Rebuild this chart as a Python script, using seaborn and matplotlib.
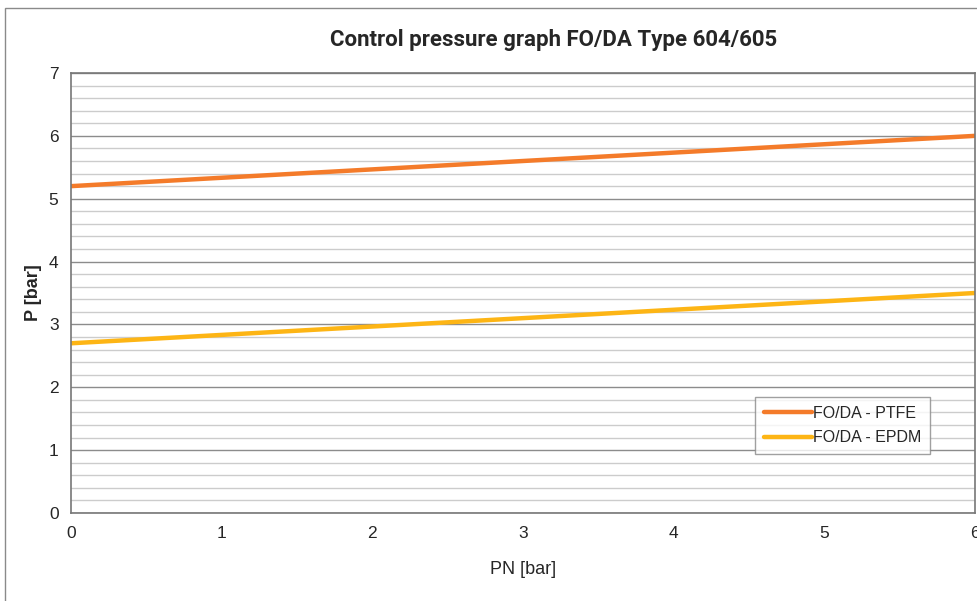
import matplotlib
matplotlib.use("Agg")
import matplotlib.pyplot as plt
import seaborn as sns
import pandas as pd
from matplotlib.patches import Rectangle

# values
pn = [0, 6]
ptfe = [5.2, 6.0]
epdm = [2.7, 3.5]
labels = ["FO/DA - PTFE", "FO/DA - EPDM"]
colors = ["#F47B2A", "#FDB515"]

df = pd.DataFrame({
    "PN": pn * 2,
    "P": ptfe + epdm,
    "series": [labels[0]] * 2 + [labels[1]] * 2,
})

sns.set_style("white")
plt.rcParams["font.family"] = ["Liberation Sans", "DejaVu Sans"]

fig = plt.figure(figsize=(9.78, 6.01), dpi=100)
ax = fig.add_axes([71 / 978, 88 / 601, 904 / 978, 440 / 601])

# outer frame of the original picture
fig.patches.append(Rectangle((5 / 978, -0.1), 1.2, (601 - 8) / 601 + 0.1,
                             transform=fig.transFigure, fill=False,
                             edgecolor="#8a8a8a", linewidth=1.0))

# minor and major grid
for v in [i * 0.2 for i in range(36)]:
    if abs(v - round(v)) > 1e-6:
        ax.axhline(v, color="#cccccc", linewidth=1.0, zorder=0)
for v in range(8):
    ax.axhline(v, color="#8c8c8c", linewidth=1.0, zorder=0)

sns.lineplot(data=df, x="PN", y="P", hue="series", palette=colors,
             linewidth=3.2, ax=ax, legend=True)

ax.set_xlim(0, 6)
ax.set_ylim(0, 7)
ax.set_xticks(range(7))
ax.set_yticks(range(8))
ax.tick_params(axis="both", direction="out", length=5, width=1,
               color="#666666", labelsize=12.5, pad=4)
for s in ax.spines.values():
    s.set_color("#777777")
    s.set_linewidth(1.2)

ax.set_xlabel("PN [bar]", fontsize=13, labelpad=15)
ax.set_ylabel("P [bar]", fontsize=13, fontweight="bold", labelpad=5)

fig.text(554 / 978, 1 - 40 / 601, "Control pressure graph FO/DA Type 604/605",
         ha="center", va="center", fontsize=16, fontweight="bold",
         family=["Roboto", "DejaVu Sans"])

leg = ax.legend(loc="lower left", bbox_to_anchor=(684 / 904, 59 / 440),
                frameon=True, fancybox=False, fontsize=11.5,
                handlelength=3.0, handletextpad=0.1, borderpad=0.55,
                labelspacing=0.6, borderaxespad=0)
leg.get_frame().set_edgecolor("#888888")
leg.get_frame().set_linewidth(1.0)

fig.savefig("out.png", dpi=100)
